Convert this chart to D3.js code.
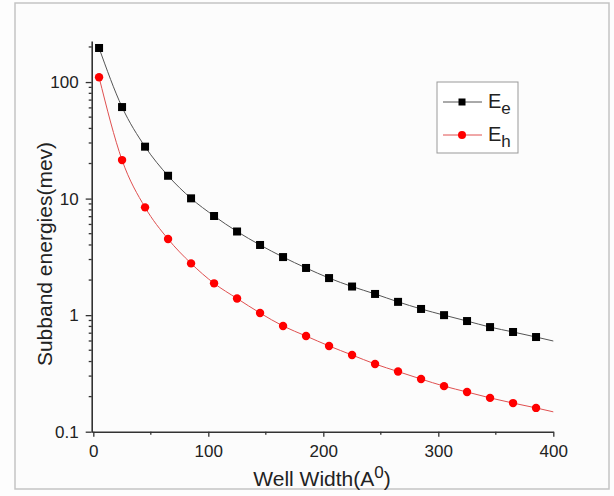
<!DOCTYPE html>
<html>
<head>
<meta charset="utf-8">
<script src="https://cdn.jsdelivr.net/npm/d3@7"></script>
<style>
body { margin: 0; background: #fff; }
text { font-family: "Liberation Sans", Arial, sans-serif; fill: #222; }
</style>
</head>
<body>
<div id="chart"></div>
<script>
var wellWidth = [5, 25, 45, 65, 85, 105, 125, 145, 165, 185, 205, 225, 245, 265, 285, 305, 325, 345, 365, 385];
var energyE = [196, 61, 27.9, 15.7, 10.05, 7.09, 5.22, 4.0, 3.15, 2.54, 2.08, 1.76, 1.52, 1.30, 1.13, 1.0, 0.89, 0.79, 0.717, 0.649];
var energyH = [110, 21.4, 8.41, 4.5, 2.78, 1.875, 1.39, 1.043, 0.807, 0.662, 0.544, 0.455, 0.381, 0.328, 0.283, 0.246, 0.219, 0.195, 0.176, 0.160];
// fitted curves run on to the end of the axis
var fitEndX = 400;
var fitEndE = 0.60;
var fitEndH = 0.148;

var xTicks = [0, 100, 200, 300, 400];
var xMinor = [50, 150, 250, 350];
var yTicks = [0.1, 1, 10, 100];
var yMinorMult = [2, 3, 4, 5, 6, 7, 8, 9];

var svg = d3.select("#chart")
  .append("svg")
  .attr("width", 614)
  .attr("height", 496);

svg.append("rect")
  .attr("x", 0).attr("y", 0)
  .attr("width", 614).attr("height", 496)
  .attr("fill", "#fdfdfd");

svg.append("rect")
  .attr("x", 15).attr("y", 3)
  .attr("width", 594).attr("height", 486)
  .attr("fill", "#fcfcfc")
  .attr("stroke", "#c4c4c4")
  .attr("stroke-width", 1.5);

var x = d3.scaleLinear().domain([-1.4, 400]).range([91.7, 553.3]);
var y = d3.scaleLog().domain([0.1, 225]).range([431.7, 41]);

var minorY = [];
[0.1, 1, 10, 100].forEach(function(dec) {
  yMinorMult.forEach(function(m) {
    if (dec * m <= 225) minorY.push(dec * m);
  });
});

// axes
var gx = svg.append("g")
  .attr("transform", "translate(0,431.7)")
  .call(d3.axisBottom(x).tickValues(xTicks).tickSize(5).tickSizeOuter(0).tickPadding(8).tickFormat(d3.format("d")));
gx.append("g").selectAll("line")
  .data(xMinor).enter().append("line")
  .attr("x1", function(d) { return x(d); })
  .attr("x2", function(d) { return x(d); })
  .attr("y1", 0).attr("y2", 3);

var gy = svg.append("g")
  .attr("transform", "translate(91.7,0)")
  .call(d3.axisLeft(y).tickValues(yTicks).tickSize(6).tickSizeOuter(0).tickPadding(7).tickFormat(function(d) { return String(d); }));
gy.append("g").selectAll("line")
  .data(minorY).enter().append("line")
  .attr("y1", function(d) { return y(d); })
  .attr("y2", function(d) { return y(d); })
  .attr("x1", 0).attr("x2", -3);

svg.selectAll(".domain").attr("stroke", "#333").attr("stroke-width", 1.6);
svg.selectAll(".tick line").attr("stroke", "#333").attr("stroke-width", 1.3);
gx.selectAll("g > line").attr("stroke", "#333").attr("stroke-width", 1.3);
gy.selectAll("g > line").attr("stroke", "#333").attr("stroke-width", 1.3);
svg.selectAll(".tick text")
  .attr("font-size", "17px")
  .attr("font-family", "Liberation Sans, Arial, sans-serif")
  .attr("fill", "#222");

// curves
var ptsE = wellWidth.map(function(w, i) { return [w, energyE[i]]; }).concat([[fitEndX, fitEndE]]);
var ptsH = wellWidth.map(function(w, i) { return [w, energyH[i]]; }).concat([[fitEndX, fitEndH]]);

var line = d3.line()
  .x(function(d) { return x(d[0]); })
  .y(function(d) { return y(d[1]); })
  .curve(d3.curveMonotoneX);

svg.append("path").datum(ptsE)
  .attr("d", line).attr("fill", "none")
  .attr("stroke", "#555").attr("stroke-width", 1);
svg.append("path").datum(ptsH)
  .attr("d", line).attr("fill", "none")
  .attr("stroke", "#e05050").attr("stroke-width", 1);

svg.append("g").selectAll("rect")
  .data(wellWidth).enter().append("rect")
  .attr("x", function(d) { return x(d) - 4; })
  .attr("y", function(d, i) { return y(energyE[i]) - 4; })
  .attr("width", 8).attr("height", 8)
  .attr("fill", "#000");

svg.append("g").selectAll("circle")
  .data(wellWidth).enter().append("circle")
  .attr("cx", function(d) { return x(d); })
  .attr("cy", function(d, i) { return y(energyH[i]); })
  .attr("r", 4.2)
  .attr("fill", "#f00");

// legend
var lg = svg.append("g");
lg.append("rect")
  .attr("x", 437).attr("y", 82)
  .attr("width", 81).attr("height", 71)
  .attr("fill", "#fff")
  .attr("stroke", "#999").attr("stroke-width", 1);

lg.append("line").attr("x1", 443).attr("x2", 482).attr("y1", 102).attr("y2", 102)
  .attr("stroke", "#555").attr("stroke-width", 1);
lg.append("rect").attr("x", 458.5).attr("y", 98.5).attr("width", 7).attr("height", 7).attr("fill", "#000");
lg.append("line").attr("x1", 443).attr("x2", 482).attr("y1", 135).attr("y2", 135)
  .attr("stroke", "#e05050").attr("stroke-width", 1);
lg.append("circle").attr("cx", 462).attr("cy", 135).attr("r", 4).attr("fill", "#f00");

var te = lg.append("text").attr("x", 488).attr("y", 108).attr("font-size", "20px");
te.append("tspan").text("E");
te.append("tspan").attr("dy", 6).attr("font-size", "17px").text("e");
var th = lg.append("text").attr("x", 488).attr("y", 141).attr("font-size", "20px");
th.append("tspan").text("E");
th.append("tspan").attr("dy", 6).attr("font-size", "17px").text("h");

// titles
var xt = svg.append("text")
  .attr("x", 322).attr("y", 486)
  .attr("text-anchor", "middle")
  .attr("font-size", "21px");
xt.append("tspan").text("Well Width(A");
xt.append("tspan").attr("dy", -8).attr("font-size", "17px").text("0");
xt.append("tspan").attr("dy", 8).text(")");

svg.append("text")
  .attr("transform", "translate(52,254) rotate(-90)")
  .attr("text-anchor", "middle")
  .attr("font-size", "21px")
  .text("Subband energies(mev)");
</script>
</body>
</html>
